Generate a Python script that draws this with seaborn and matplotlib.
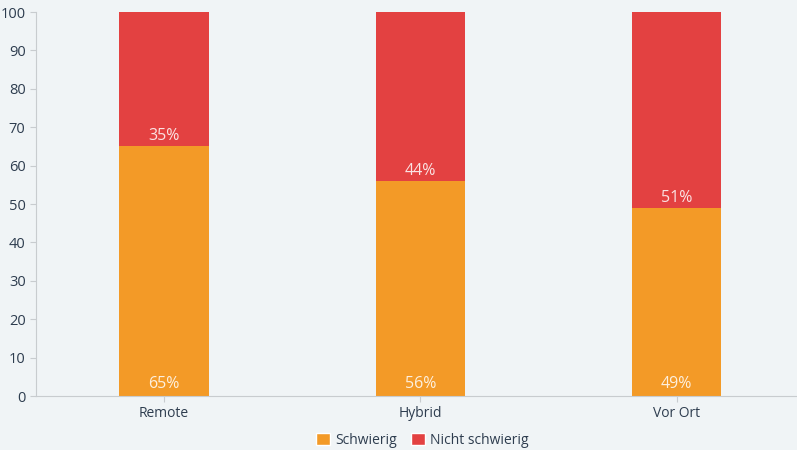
import matplotlib.pyplot as plt
import pandas as pd
import seaborn as sns
from matplotlib.patches import Patch

categories = ["Remote", "Hybrid", "Vor Ort"]
schwierig = [65, 56, 49]
nicht_schwierig = [35, 44, 51]

orange = "#F39A27"
red = "#E34141"
bg = "#F0F4F6"
text_col = "#2E3D4F"

df = pd.DataFrame({
    "kategorie": categories,
    "schwierig": schwierig,
    "nicht": nicht_schwierig,
})
df["gesamt"] = df["schwierig"] + df["nicht"]

sns.set_style("white")
plt.rcParams["font.family"] = ["Open Sans", "DejaVu Sans"]

fig = plt.figure(figsize=(7.97, 4.5), dpi=100, facecolor=bg)
ax = fig.add_axes([36 / 797, 1 - 396 / 450, 1 - 36 / 797, (396 - 12) / 450])
ax.set_facecolor(bg)

# red stack as full bar, orange drawn over it
sns.barplot(data=df, x="kategorie", y="gesamt", color=red, width=0.35,
            saturation=1, linewidth=0, ax=ax)
sns.barplot(data=df, x="kategorie", y="schwierig", color=orange, width=0.35,
            saturation=1, linewidth=0, ax=ax)

for i, row in df.iterrows():
    ax.text(i, 3, f"{row.schwierig}%", ha="center", va="center",
            color="white", alpha=0.85, fontsize=11.5)
    ax.text(i, row.schwierig + 2.6, f"{row.nicht}%", ha="center", va="center",
            color="white", alpha=0.85, fontsize=11.5)

ax.set_ylim(0, 100)
ax.set_xlim(-0.5, 2.47)
ax.set_yticks(range(0, 101, 10))
ax.set_xlabel("")
ax.set_ylabel("")
ax.tick_params(axis="both", colors="#C8CCCF", labelcolor=text_col,
               labelsize=10, length=4, width=0.8, left=True, bottom=True)
ax.tick_params(axis="y", labelsize=10.5)
for side in ["top", "right"]:
    ax.spines[side].set_visible(False)
ax.spines["left"].set_color("#C8CCCF")
ax.spines["bottom"].set_color("#C8CCCF")

handles = [Patch(facecolor=orange, label="Schwierig"),
           Patch(facecolor=red, label="Nicht schwierig")]
fig.legend(handles=handles, loc="center", bbox_to_anchor=(0.53, 0.022),
           ncol=2, frameon=False, fontsize=10, handlelength=1.0,
           handleheight=1.0, handletextpad=0.4, columnspacing=1.0,
           labelcolor=text_col)

fig.savefig("out.png", dpi=100, facecolor=bg)
